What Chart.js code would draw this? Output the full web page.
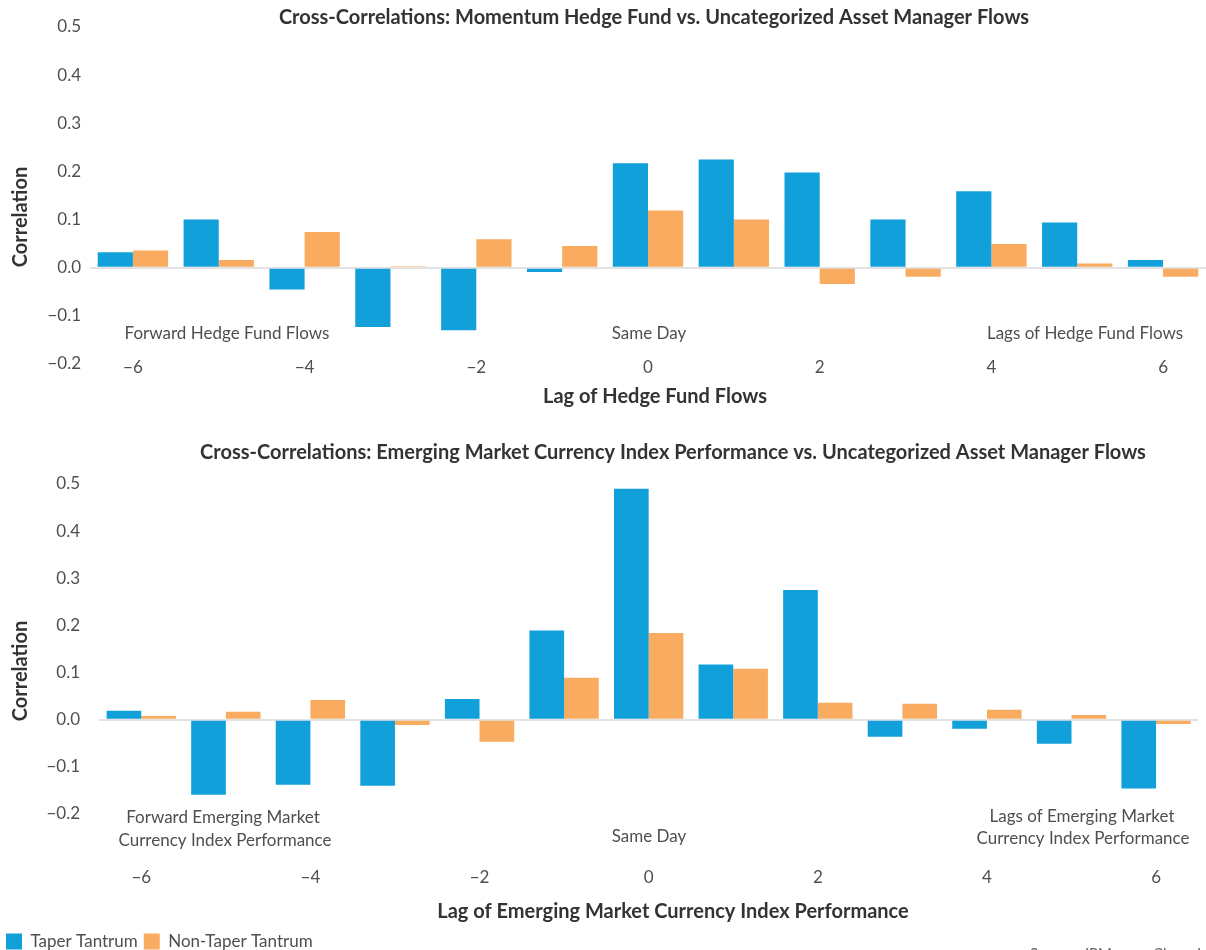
<!DOCTYPE html>
<html lang="en">
<head>
    <meta charset="UTF-8">
    <title>Cross-Correlations</title>
    <script src="https://cdn.jsdelivr.net/npm/chart.js"></script>
    <style>
        body { margin: 0; background: #fff; width: 1206px; height: 950px; overflow: hidden; }
        .box { position: absolute; left: 0; }
        #topBox { top: 0; }
        #bottomBox { top: 430px; }
    </style>
</head>
<body>
    <div class="box" id="topBox"><canvas id="topChart" width="1206" height="430"></canvas></div>
    <div class="box" id="bottomBox"><canvas id="bottomChart" width="1206" height="520"></canvas></div>

    <script>
        // lags (x categories)
        const lags = [-6, -5, -4, -3, -2, -1, 0, 1, 2, 3, 4, 5, 6];
        const seriesNames = ['Taper Tantrum', 'Non-Taper Tantrum'];

        // top panel: momentum hedge fund vs asset manager flows
        const hfTaper = [0.032, 0.100, -0.045, -0.123, -0.130, -0.009, 0.217, 0.225, 0.198, 0.100, 0.159, 0.094, 0.016];
        const hfNonTaper = [0.036, 0.016, 0.074, 0.003, 0.059, 0.045, 0.119, 0.100, -0.034, -0.019, 0.049, 0.009, -0.019];

        // bottom panel: EM currency index vs asset manager flows
        const emTaper = [0.019, -0.159, -0.138, -0.140, 0.044, 0.189, 0.490, 0.117, 0.275, -0.036, -0.019, -0.051, -0.146];
        const emNonTaper = [0.008, 0.017, 0.042, -0.011, -0.047, 0.089, 0.184, 0.108, 0.036, 0.034, 0.021, 0.010, -0.009];

        const yTicks = [-0.2, -0.1, 0.0, 0.1, 0.2, 0.3, 0.4, 0.5];

        const BLUE = '#12a0db';
        const ORANGE = '#f9ac60';
        const DARK = '#333333';
        const GREY = '#4f4f4f';

        Chart.defaults.font.family = 'Lato, "Open Sans", sans-serif';
        Chart.defaults.color = GREY;

        function fmtMinus(s) {
            return String(s).replace('-', '\u2212');
        }

        // draws titles and the in-plot notes
        const textPlugin = {
            id: 'extraText',
            afterDraw(chart, args, opts) {
                const ctx = chart.ctx;
                (opts.items || []).forEach(it => {
                    ctx.save();
                    ctx.font = it.font;
                    ctx.fillStyle = it.color || GREY;
                    ctx.textAlign = it.align || 'center';
                    ctx.textBaseline = it.baseline || 'middle';
                    ctx.translate(it.x, it.y);
                    if (it.rotate) ctx.rotate(it.rotate);
                    ctx.fillText(it.text, 0, 0);
                    ctx.restore();
                });
            }
        };

        function makeChart(id, taper, nonTaper, o) {
            const ctx = document.getElementById(id).getContext('2d');
            return new Chart(ctx, {
                type: 'bar',
                data: {
                    labels: lags,
                    datasets: [
                        { label: seriesNames[0], data: taper, backgroundColor: BLUE },
                        { label: seriesNames[1], data: nonTaper, backgroundColor: ORANGE }
                    ]
                },
                plugins: [textPlugin],
                options: {
                    responsive: false,
                    animation: false,
                    categoryPercentage: 0.82,
                    barPercentage: 1.0,
                    layout: { padding: { top: o.top, left: 0, right: 0, bottom: o.padBottom || 0 } },
                    plugins: {
                        legend: o.legend,
                        tooltip: { enabled: false },
                        extraText: { items: o.texts }
                    },
                    scales: {
                        x: {
                            grid: { display: false },
                            border: { display: false },
                            ticks: {
                                autoSkip: false,
                                maxRotation: 0,
                                mirror: !!o.xMirror,
                                padding: o.xPad,
                                font: { size: 17 },
                                color: GREY,
                                callback: function(v, i) {
                                    const lag = lags[i];
                                    return lag % 2 === 0 ? fmtMinus(lag) : '';
                                }
                            },
                            afterFit: function(scale) {
                                const legendH = scale.chart.legend && scale.chart.legend.options.display ? scale.chart.legend.height : 0;
                                scale.height = o.height - o.areaBottom - legendH - (o.padBottom || 0);
                            }
                        },
                        y: {
                            min: -0.2,
                            max: 0.5,
                            border: { display: false },
                            grid: {
                                drawTicks: false,
                                lineWidth: 2,
                                color: c => (c.tick && Math.abs(c.tick.value) < 1e-9) ? '#e2e2e2' : 'rgba(0,0,0,0)'
                            },
                            afterBuildTicks: function(scale) {
                                scale.ticks = yTicks.map(v => ({ value: v }));
                            },
                            ticks: {
                                padding: o.yPad,
                                font: { size: 17 },
                                color: GREY,
                                callback: v => fmtMinus(v.toFixed(1))
                            },
                            afterFit: function(scale) {
                                scale.width = o.yWidth;
                            }
                        }
                    }
                }
            });
        }

        const titleFont = 'bold 20px Lato, "Open Sans", sans-serif';
        const noteFont = '17px Lato, "Open Sans", sans-serif';

        makeChart('topChart', hfTaper, hfNonTaper, {
            top: 27,
            height: 430,
            areaBottom: 364,
            yWidth: 90,
            yPad: 9,
            xMirror: true,
            xPad: -14,
            legend: { display: false },
            texts: [
                { text: 'Cross-Correlations: Momentum Hedge Fund vs. Uncategorized Asset Manager Flows', x: 654, y: 18, font: titleFont, color: DARK },
                { text: 'Forward Hedge Fund Flows', x: 227, y: 334, font: noteFont },
                { text: 'Same Day', x: 649, y: 334, font: noteFont },
                { text: 'Lags of Hedge Fund Flows', x: 1085, y: 334, font: noteFont },
                { text: 'Lag of Hedge Fund Flows', x: 655, y: 397, font: titleFont, color: DARK },
                { text: 'Correlation', x: 21, y: 217, font: titleFont, color: DARK, rotate: -Math.PI / 2 }
            ]
        });

        makeChart('bottomChart', emTaper, emNonTaper, {
            top: 54,
            height: 520,
            areaBottom: 384,
            padBottom: -10,
            yWidth: 99,
            yPad: 19,
            xPad: 45,
            legend: {
                display: true,
                position: 'bottom',
                align: 'start',
                labels: {
                    boxWidth: 16,
                    boxHeight: 16,
                    padding: 6,
                    color: GREY,
                    font: { size: 17 }
                }
            },
            texts: [
                { text: 'Cross-Correlations: Emerging Market Currency Index Performance vs. Uncategorized Asset Manager Flows', x: 673, y: 23, font: titleFont, color: DARK },
                { text: 'Forward Emerging Market', x: 223, y: 388, font: noteFont },
                { text: 'Currency Index Performance', x: 225, y: 411, font: noteFont },
                { text: 'Same Day', x: 649, y: 407, font: noteFont },
                { text: 'Lags of Emerging Market', x: 1082, y: 387, font: noteFont },
                { text: 'Currency Index Performance', x: 1083, y: 409, font: noteFont },
                { text: 'Lag of Emerging Market Currency Index Performance', x: 673, y: 482, font: titleFont, color: DARK },
                { text: 'Correlation', x: 21, y: 241, font: titleFont, color: DARK, rotate: -Math.PI / 2 },
                { text: 'Source: JPMorgan Chase Inc.', x: 1030, y: 517, font: '15px Lato, sans-serif', color: '#666', align: 'left', baseline: 'top' }
            ]
        });
    </script>
</body>
</html>
